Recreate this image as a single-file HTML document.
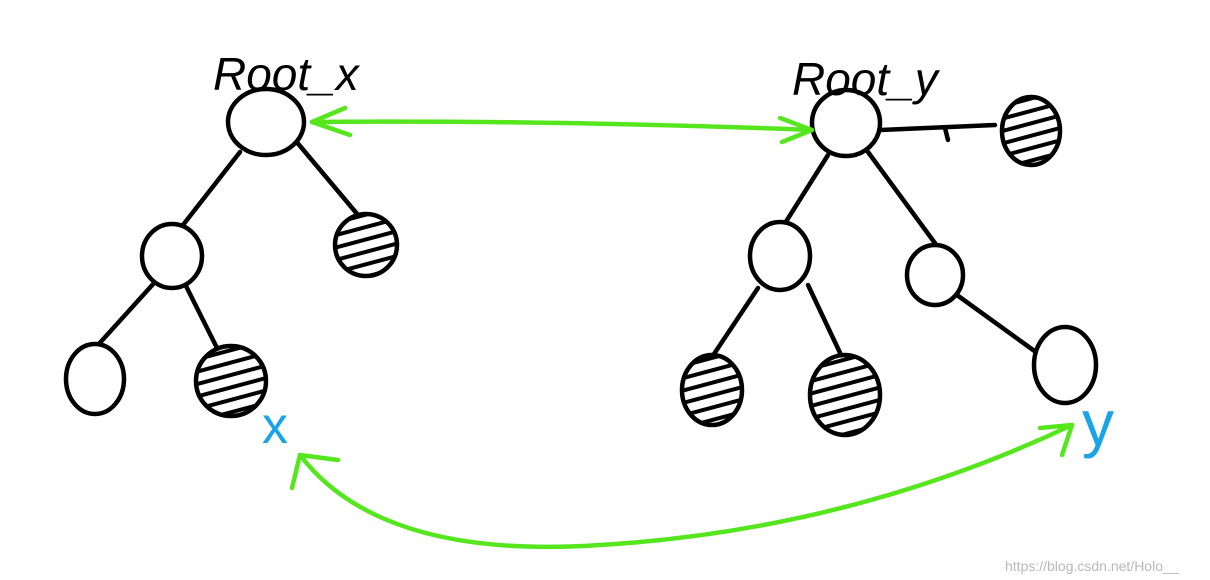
<!DOCTYPE html>
<html><head><meta charset="utf-8"><style>
html,body{margin:0;padding:0;background:#fff;}
svg{display:block;}
</style></head><body>
<svg width="1210" height="580" viewBox="0 0 1210 580" xmlns="http://www.w3.org/2000/svg">
<defs>
<pattern id="h" width="12" height="12" patternUnits="userSpaceOnUse" patternTransform="rotate(75)">
<rect width="12" height="12" fill="#fff"/><rect width="4" height="12" fill="#000"/>
</pattern>
</defs>
<g fill="none" stroke="#000" stroke-width="4.5" stroke-linecap="round">
<line x1="240" y1="152" x2="183" y2="225"/>
<line x1="295" y1="140" x2="358" y2="215"/>
<line x1="155" y1="282" x2="97" y2="346"/>
<line x1="185" y1="284" x2="218" y2="350"/>
<path d="M880 130 L995 125 M945 128 L948 140"/>
<line x1="828" y1="155" x2="782" y2="228"/>
<line x1="868" y1="152" x2="940" y2="250"/>
<line x1="758" y1="288" x2="712" y2="357"/>
<line x1="808" y1="285" x2="842" y2="357"/>
<line x1="950" y1="290" x2="1040" y2="355"/>
<ellipse cx="266" cy="122" rx="38" ry="33" fill="#fff"/>
<ellipse cx="172" cy="256" rx="30" ry="32" fill="#fff"/>
<ellipse cx="366" cy="245" rx="31" ry="31" fill="url(#h)"/>
<ellipse cx="95" cy="379" rx="29" ry="35" fill="#fff"/>
<ellipse cx="231" cy="381" rx="35" ry="35" fill="url(#h)"/>
<ellipse cx="846" cy="123" rx="34" ry="33" fill="#fff"/>
<ellipse cx="1031" cy="131" rx="29" ry="34" fill="url(#h)"/>
<ellipse cx="780" cy="256" rx="30" ry="34" fill="#fff"/>
<ellipse cx="935" cy="275" rx="28" ry="30" fill="#fff"/>
<ellipse cx="712" cy="390" rx="30" ry="35" fill="url(#h)"/>
<ellipse cx="845" cy="395" rx="35" ry="40" fill="url(#h)"/>
<ellipse cx="1065" cy="365" rx="31" ry="38" fill="#fff"/>
</g>
<g fill="none" stroke="#55e61e" stroke-width="4.5" stroke-linecap="round" stroke-linejoin="round">
<path d="M312 122 Q560 120 812 130"/>
<path d="M345 108 L312 122 L350 135"/>
<path d="M780 118 L812 130 L782 142"/>
<path d="M300 455 Q380 560 600 545 Q850 530 1072 425"/>
<path d="M292 488 L300 455 L338 460"/>
<path d="M1040 428 L1072 425 L1062 455"/>
</g>
<g font-family="Liberation Sans, sans-serif" fill="#000">
<text x="213" y="90" font-size="46" font-style="italic">Root_x</text>
<text x="792" y="95" font-size="46" font-style="italic">Root_y</text>
</g>
<text x="262" y="443" font-family="Liberation Sans, sans-serif" font-size="52" fill="#1aa3e6">x</text>
<text x="1082" y="445" font-family="Liberation Sans, sans-serif" font-size="64" fill="#1aa3e6">y</text>
<text x="1005" y="571" font-family="Liberation Sans, sans-serif" font-size="14" fill="#b8b8b8">https://blog.csdn.net/Holo__</text>
</svg>
</body></html>
